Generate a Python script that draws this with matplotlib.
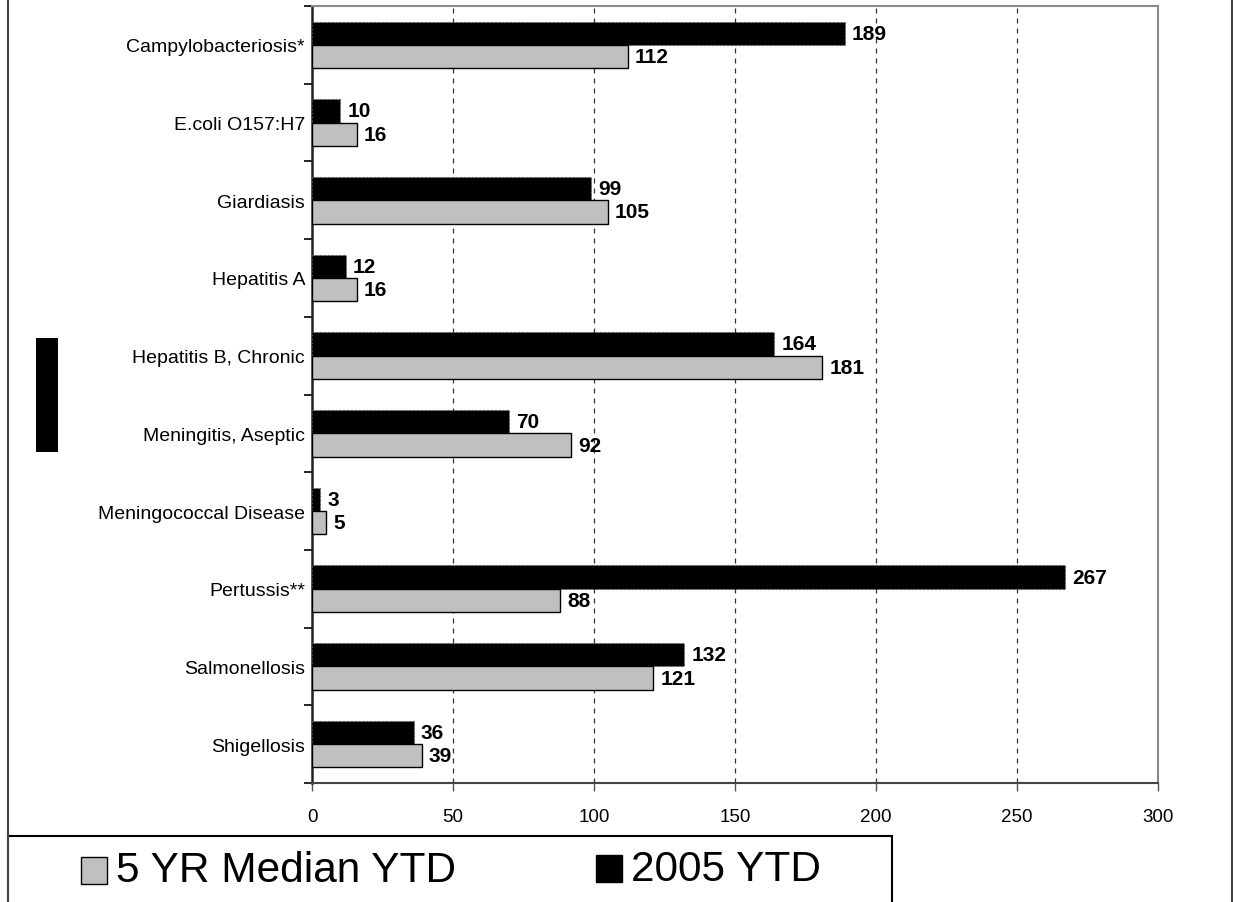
import matplotlib
matplotlib.use("Agg")
import matplotlib.pyplot as plt
from matplotlib.patches import Rectangle
from matplotlib.lines import Line2D
import numpy as np

plt.rcParams['font.family'] = ['Liberation Sans', 'DejaVu Sans']

categories = [
    "Campylobacteriosis*", "E.coli O157:H7", "Giardiasis", "Hepatitis A",
    "Hepatitis B, Chronic", "Meningitis, Aseptic", "Meningococcal Disease",
    "Pertussis**", "Salmonellosis", "Shigellosis",
]
median_5yr = [112, 16, 105, 16, 181, 92, 5, 88, 121, 39]
ytd_2005 = [189, 10, 99, 12, 164, 70, 3, 267, 132, 36]
series_names = ["5 YR Median YTD", "2005 YTD"]
x_ticks = [0, 50, 100, 150, 200, 250, 300]

W, H = 1233, 903
fig = plt.figure(figsize=(W / 100, H / 100), dpi=100)

def fx(px):
    return px / W

def fy(py):
    return 1 - py / H

ax = fig.add_axes([fx(312), fy(784), fx(1158) - fx(312), fy(7) - fy(784)])

pos = np.arange(len(categories))
bar_h = 0.3
ax.barh(pos - bar_h / 2, ytd_2005, height=bar_h, color='black',
        edgecolor='#555555', linewidth=0.8, linestyle=(0, (1, 2.5)), zorder=3)
ax.barh(pos + bar_h / 2, median_5yr, height=bar_h, color='#C0C0C0',
        edgecolor='black', linewidth=1.0, zorder=3)

for p, v in zip(pos, ytd_2005):
    ax.annotate(str(v), (v, p - bar_h / 2), xytext=(5, 0),
                textcoords='offset points', va='center', ha='left',
                fontsize=15, fontweight='bold', zorder=4)
for p, v in zip(pos, median_5yr):
    ax.annotate(str(v), (v, p + bar_h / 2), xytext=(5, 0),
                textcoords='offset points', va='center', ha='left',
                fontsize=15, fontweight='bold', zorder=4)

ax.set_xlim(0, 300)
ax.set_ylim(len(categories) - 0.5, -0.5)
ax.set_xticks(x_ticks)
ax.set_xticklabels([str(t) for t in x_ticks], fontsize=13.5)
ax.set_yticks(pos)
ax.set_yticklabels(categories, fontsize=14)
ax.set_yticks(np.arange(len(categories) + 1) - 0.5, minor=True)
ax.tick_params(axis='y', which='major', length=0, pad=5)
ax.tick_params(axis='y', which='minor', length=6, width=1.2, direction='out',
               color='black')
ax.tick_params(axis='x', which='major', length=6, width=1.0, direction='out',
               pad=12, color='#555555')

for gx in x_ticks[1:-1]:
    ax.axvline(gx, color='#333333', linewidth=0.9, linestyle=(0, (4, 4)), zorder=1)

ax.spines['left'].set_color('#222222')
ax.spines['left'].set_linewidth(1.8)
ax.spines['bottom'].set_color('#444444')
ax.spines['bottom'].set_linewidth(1.5)
ax.spines['top'].set_color('#888888')
ax.spines['top'].set_linewidth(1.5)
ax.spines['right'].set_color('#888888')
ax.spines['right'].set_linewidth(1.5)

# Outer frame of the chart area
fig.add_artist(Line2D([fx(7.5), fx(7.5)], [0, 1], color='#444444', linewidth=1.5))
fig.add_artist(Line2D([fx(1231.5), fx(1231.5)], [0, 1], color='#444444', linewidth=1.5))

# Filled block at the left where the axis title sits
fig.add_artist(Rectangle((fx(36), fy(453)), fx(58) - fx(36), fy(339) - fy(453),
                         facecolor='black', edgecolor='none'))

# Legend box with swatches
fig.add_artist(Rectangle((fx(7.5), fy(910)), fx(892) - fx(7.5), fy(837) - fy(910),
                         facecolor='white', edgecolor='black', linewidth=1.5))
fig.add_artist(Rectangle((fx(81), fy(885)), fx(107) - fx(81), fy(858) - fy(885),
                         facecolor='#C0C0C0', edgecolor='black', linewidth=1.0))
fig.text(fx(116), fy(871), series_names[0], fontsize=30.5, va='center', ha='left')
fig.add_artist(Rectangle((fx(596), fy(883)), fx(622) - fx(596), fy(856) - fy(883),
                         facecolor='black', edgecolor='black', linewidth=1.0))
fig.text(fx(631), fy(870), series_names[1], fontsize=30.5, va='center', ha='left')

fig.savefig("out.png", dpi=100)
